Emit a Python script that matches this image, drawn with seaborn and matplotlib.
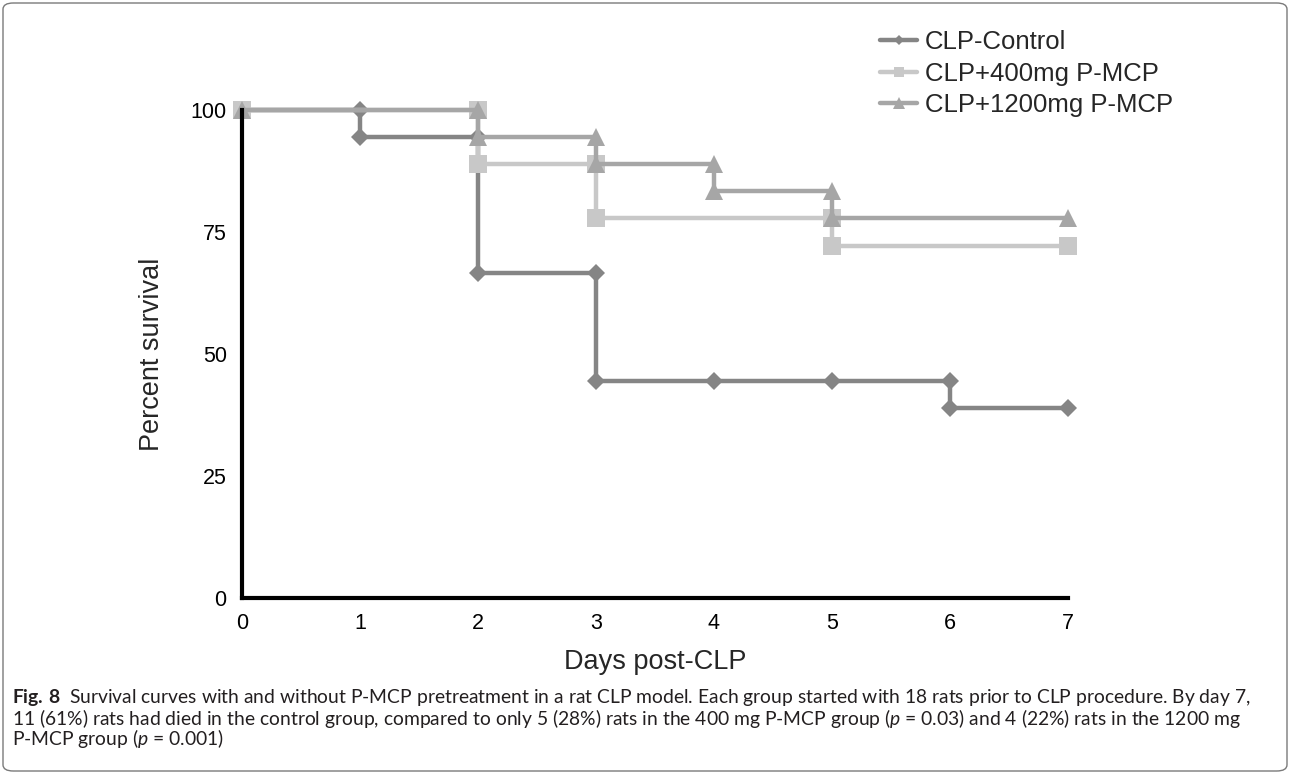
import matplotlib
matplotlib.use("Agg")
import matplotlib.pyplot as plt
from matplotlib.lines import Line2D
from matplotlib.patches import FancyBboxPatch
import seaborn as sns
import pandas as pd

# Kaplan-Meier style survival steps: each drop is listed as (day, before) and (day, after)
control_days = [0, 1, 1, 2, 2, 3, 3, 4, 5, 6, 6, 7]
control_surv = [100, 100, 94.4, 94.4, 66.7, 66.7, 44.4, 44.4, 44.4, 44.4, 38.9, 38.9]

p400_days = [0, 2, 2, 3, 3, 5, 5, 7]
p400_surv = [100, 100, 88.9, 88.9, 77.8, 77.8, 72.2, 72.2]

p1200_days = [0, 2, 2, 3, 3, 4, 4, 5, 5, 7]
p1200_surv = [100, 100, 94.4, 94.4, 88.9, 88.9, 83.3, 83.3, 77.8, 77.8]

group_names = ["CLP-Control", "CLP+400mg P-MCP", "CLP+1200mg P-MCP"]
group_colors = ["#858585", "#c8c8c8", "#a6a6a6"]
group_markers = ["D", "s", "^"]
group_msize = [9.6, 12.5, 13]
legend_msize = [5.4, 7.4, 8.0]

x_ticks = [0, 1, 2, 3, 4, 5, 6, 7]
y_ticks = [0, 25, 50, 75, 100]

caption_lines = [
    r"$\bf{Fig.\,8}$  Survival curves with and without P-MCP pretreatment in a rat CLP model. Each group started with 18 rats prior to CLP procedure. By day 7,",
    r"11 (61%) rats had died in the control group, compared to only 5 (28%) rats in the 400 mg P-MCP group ($\it{p}$ = 0.03) and 4 (22%) rats in the 1200 mg",
    r"P-MCP group ($\it{p}$ = 0.001)",
]

frames = []
for name, d, s in [(group_names[0], control_days, control_surv),
                   (group_names[1], p400_days, p400_surv),
                   (group_names[2], p1200_days, p1200_surv)]:
    frames.append(pd.DataFrame({"day": d, "surv": s, "group": name}))
df = pd.concat(frames, ignore_index=True)

sns.set_style("white")
plt.rcParams["font.family"] = ["Liberation Sans", "DejaVu Sans"]
plt.rcParams["mathtext.fontset"] = "custom"
plt.rcParams["mathtext.rm"] = "Lato"
plt.rcParams["mathtext.it"] = "Lato:italic"
plt.rcParams["mathtext.bf"] = "Lato:bold"

W, H = 1290, 774
fig = plt.figure(figsize=(W / 100, H / 100), dpi=100)
ax = fig.add_axes([242 / W, 1 - 598 / H, (1068 - 242) / W, (598 - 110) / H])

for name, col, mk, ms in zip(group_names, group_colors, group_markers, group_msize):
    sub = df[df["group"] == name]
    sns.lineplot(data=sub, x="day", y="surv", ax=ax, sort=False, estimator=None,
                 color=col, marker=mk, markersize=ms, markeredgewidth=0,
                 linewidth=3.2, legend=False, clip_on=False)

ax.set_xlim(0, 7)
ax.set_ylim(0, 100)
ax.set_xticks(x_ticks)
ax.set_yticks(y_ticks)
ax.tick_params(axis="both", direction="out", length=4, width=3, labelsize=15.5,
               colors="black", pad=7)
for side in ["left", "bottom"]:
    ax.spines[side].set_linewidth(3)
    ax.spines[side].set_color("black")
for side in ["top", "right"]:
    ax.spines[side].set_visible(False)

ax.set_xlabel("Days post-CLP", fontsize=19.5, va="center")
ax.xaxis.set_label_coords(0.5, (598 - 662) / 488)
ax.set_ylabel("Percent survival", fontsize=19.5, va="center")
ax.yaxis.set_label_coords((152 - 242) / 826, 0.5)

# legend with smaller markers than the plotted ones
handles = [Line2D([], [], color=c, marker=m, markersize=s, markeredgewidth=0, linewidth=3.2)
           for c, m, s in zip(group_colors, group_markers, legend_msize)]
ax.legend(handles, group_names, loc="upper left", bbox_to_anchor=(880 / W, 1 - 30 / H),
          bbox_transform=fig.transFigure, frameon=False, fontsize=18.5,
          handlelength=1.45, handletextpad=0.3, labelspacing=0.3, borderaxespad=0,
          borderpad=0)

# caption under the chart, sized so that its first line spans the figure width
cap_y = [697, 718, 739]
cap_texts = []
for line, yy in zip(caption_lines, cap_y):
    cap_texts.append(fig.text(12 / W, 1 - yy / H, line, fontsize=12.5, va="center",
                              ha="left", family=["Lato", "DejaVu Sans"], color="#231f20"))
fig.canvas.draw()
renderer = fig.canvas.get_renderer()
w0 = cap_texts[0].get_window_extent(renderer).width
scale = (1253 - 12) / w0
for t in cap_texts:
    t.set_fontsize(12.5 * scale)

# rounded frame round the whole figure
frame = FancyBboxPatch((3 / W, 3 / H), (W - 6) / W, (H - 6) / H,
                       boxstyle="round,pad=0,rounding_size=0.008",
                       transform=fig.transFigure, fill=False, edgecolor="#7a7a7a",
                       linewidth=1.0)
fig.patches.append(frame)

fig.savefig("out.png", dpi=100)
